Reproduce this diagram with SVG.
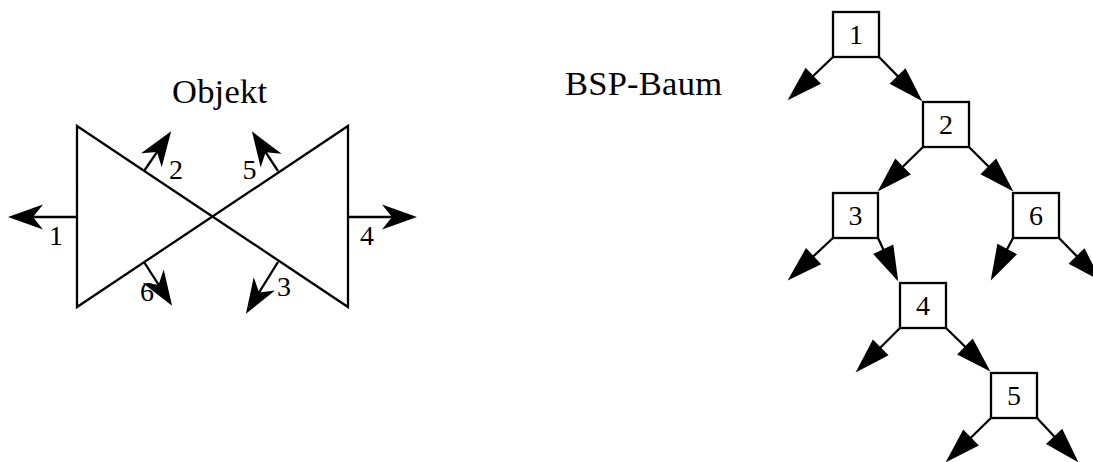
<svg xmlns="http://www.w3.org/2000/svg" width="1093" height="462" viewBox="0 0 1093 462">
<style>
.ln{stroke:#000;stroke-width:2.3;fill:none}
.ob{stroke:#000;stroke-width:2.3;fill:none;marker-end:url(#barb)}
.tr{stroke:#000;stroke-width:2.3;fill:none;marker-end:url(#tri)}
.bx{stroke:#000;stroke-width:2.3;fill:#fff}
.t{font-family:"Liberation Serif","Times New Roman",serif;font-size:28px;fill:#000}
.h{font-family:"Liberation Serif","Times New Roman",serif;font-size:34.5px;fill:#000}
</style>
<defs>
<marker id="barb" markerUnits="userSpaceOnUse" markerWidth="40" markerHeight="30" viewBox="-2 -12 32 24" refX="20" refY="0" orient="auto">
<path d="M28,0 L0,-10 L8,0 L0,10 Z" fill="#000"/>
</marker>
<marker id="tri" markerUnits="userSpaceOnUse" markerWidth="40" markerHeight="30" viewBox="-2 -12 36 24" refX="27" refY="0" orient="auto">
<path d="M32,0 L0,-10 L0,10 Z" fill="#000"/>
</marker>
</defs>
<rect width="1093" height="462" fill="#fff"/>
<g id="objekt">
<text class="h" x="172" y="103" textLength="95">Objekt</text>
<path class="ln" d="M77,126 L348,307 L348,126 L77,307 Z"/>
</g>
<g id="normals">
<line class="ob" x1="77" y1="217" x2="18" y2="217"/>
<line class="ob" x1="348" y1="217" x2="407" y2="217"/>
<line class="ob" x1="144" y1="171" x2="165.5" y2="139.6"/>
<line class="ob" x1="278" y1="171" x2="257.4" y2="139.7"/>
<line class="ob" x1="144" y1="262" x2="166.7" y2="297.3"/>
<line class="ob" x1="278" y1="262" x2="251.2" y2="305.2"/>
</g>
<g id="normal-labels">
<text class="t" x="56" y="245" text-anchor="middle">1</text>
<text class="t" x="176" y="179" text-anchor="middle">2</text>
<text class="t" x="284" y="296" text-anchor="middle">3</text>
<text class="t" x="367" y="245" text-anchor="middle">4</text>
<text class="t" x="249.5" y="179" text-anchor="middle">5</text>
<text class="t" x="147" y="301" text-anchor="middle">6</text>
</g>
<text class="h" x="565" y="95" textLength="157">BSP-Baum</text>
<g id="connectors">
<line class="tr" x1="833" y1="57" x2="791.6" y2="96.5"/>
<line class="tr" x1="879" y1="57" x2="918.5" y2="97.4"/>
<line class="tr" x1="923" y1="147" x2="881.6" y2="187.5"/>
<line class="tr" x1="969" y1="147" x2="1009.5" y2="187.5"/>
<line class="tr" x1="833" y1="238" x2="791.7" y2="276.6"/>
<line class="tr" x1="878" y1="238" x2="895.9" y2="276.5"/>
<line class="tr" x1="1013" y1="238" x2="993.3" y2="275.6"/>
<line class="tr" x1="1059" y1="238" x2="1097.5" y2="277.4"/>
<line class="tr" x1="900" y1="328" x2="859.5" y2="368.5"/>
<line class="tr" x1="946" y1="328" x2="986.4" y2="367.5"/>
<line class="tr" x1="991" y1="418" x2="949.6" y2="458.5"/>
<line class="tr" x1="1037" y1="418" x2="1074.6" y2="458.3"/>
</g>
<g id="node1"><rect class="bx" x="833" y="12" width="46" height="45"/><text class="t" x="856" y="44" text-anchor="middle">1</text></g>
<g id="node2"><rect class="bx" x="923" y="102" width="46" height="45"/><text class="t" x="946" y="134" text-anchor="middle">2</text></g>
<g id="node3"><rect class="bx" x="833" y="193" width="45" height="45"/><text class="t" x="855.5" y="225" text-anchor="middle">3</text></g>
<g id="node6"><rect class="bx" x="1013" y="193" width="46" height="45"/><text class="t" x="1036" y="225" text-anchor="middle">6</text></g>
<g id="node4"><rect class="bx" x="900" y="283" width="46" height="45"/><text class="t" x="923" y="315" text-anchor="middle">4</text></g>
<g id="node5"><rect class="bx" x="991" y="373" width="46" height="45"/><text class="t" x="1014" y="405" text-anchor="middle">5</text></g>
</svg>
